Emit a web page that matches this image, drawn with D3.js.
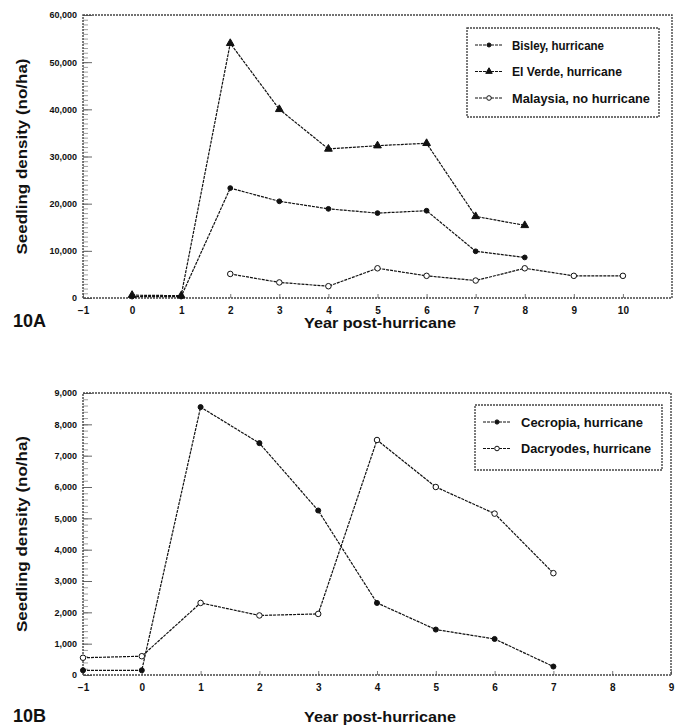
<!DOCTYPE html>
<html>
<head>
<meta charset="utf-8">
<script src="https://d3js.org/d3.v7.min.js"></script>
<style>
  body { margin: 0; background: #fff; }
  svg { font-family: "Liberation Sans Narrow", "Liberation Sans", Arial, sans-serif; font-weight: bold; }
</style>
</head>
<body>
<svg id="fig" width="676" height="727"></svg>
<script>
// Panel 10A data
var yearsA = [0, 1, 2, 3, 4, 5, 6, 7, 8];
var bisley = [300, 300, 23300, 20500, 18900, 18000, 18500, 9900, 8600];
var elVerde = [600, 500, 54000, 40000, 31600, 32300, 32800, 17300, 15400];
var yearsMal = [2, 3, 4, 5, 6, 7, 8, 9, 10];
var malaysia = [5100, 3300, 2500, 6300, 4700, 3700, 6300, 4700, 4700];
var ticksA = [-1, 0, 1, 2, 3, 4, 5, 6, 7, 8, 9, 10];
// Panel 10B data
var yearsB = [-1, 0, 1, 2, 3, 4, 5, 6, 7];
var cecropia = [150, 150, 8550, 7400, 5250, 2300, 1450, 1150, 270];
var dacryodes = [550, 600, 2300, 1900, 1950, 7500, 6000, 5150, 3250];
var ticksB = [-1, 0, 1, 2, 3, 4, 5, 6, 7, 8, 9];

var svg = d3.select("#fig");
var ink = "#111";
var fam = "'Liberation Sans Narrow', 'Liberation Sans', Arial, sans-serif";

function panel(cfg) {
   var x = d3.scaleLinear().domain(cfg.xDomain).range([cfg.left, cfg.right]);
   var y = d3.scaleLinear().domain(cfg.yDomain).range([cfg.bottom, cfg.top]);
   var g = svg.append("g");

   // minor y ticks inside the plot
   g.append("g")
      .attr("transform", "translate(" + cfg.left + ",0)")
      .call(d3.axisLeft(y).tickValues(d3.range(0, cfg.yDomain[1], cfg.yMinor)).tickSize(-5).tickFormat(""))
      .call(a => a.select(".domain").remove())
      .selectAll("line").attr("stroke", "#888").attr("stroke-width", 0.8);

   // major y ticks + labels
   g.append("g")
      .attr("transform", "translate(" + cfg.left + ",0)")
      .call(d3.axisLeft(y).ticks(cfg.yTicks).tickSize(-9).tickPadding(6).tickFormat(d3.format(",")))
      .call(a => a.select(".domain").remove())
      .call(a => a.selectAll("line").attr("stroke", "#666"))
      .selectAll("text").attr("font-size", 9).attr("font-weight", "bold").attr("fill", ink)
      .attr("font-family", fam);

   // x ticks + labels
   g.append("g")
      .attr("transform", "translate(0," + cfg.bottom + ")")
      .call(d3.axisBottom(x).tickValues(cfg.xTicks).tickSize(-4).tickPadding(9).tickFormat(d3.format("d")))
      .call(a => a.select(".domain").remove())
      .call(a => a.selectAll("line").attr("stroke", "#777"))
      .selectAll("text").attr("font-size", 10).attr("font-weight", "bold").attr("fill", ink)
      .attr("font-family", fam);

   // plot frame
   g.append("rect")
      .attr("x", cfg.left).attr("y", cfg.top)
      .attr("width", cfg.right - cfg.left).attr("height", cfg.bottom - cfg.top)
      .attr("fill", "none").attr("stroke", "#444").attr("stroke-width", 1.4)
      .attr("stroke-dasharray", "2,1");

   var line = d3.line().x(d => x(d[0])).y(d => y(d[1]));
   cfg.series.forEach(function (s) {
      var pts = s.xs.map((v, i) => [v, s.ys[i]]);
      g.append("path").datum(pts)
         .attr("d", line)
         .attr("fill", "none").attr("stroke", ink).attr("stroke-width", 1.2)
         .attr("stroke-dasharray", "3,1");
      g.selectAll(null).data(pts).enter().append("path")
         .attr("transform", d => "translate(" + x(d[0]) + "," + y(d[1]) + ")")
         .attr("d", d3.symbol().type(s.symbol).size(s.size))
         .attr("fill", s.open ? "#fff" : ink)
         .attr("stroke", ink).attr("stroke-width", 1);
   });

   // legend
   var lg = cfg.legend;
   g.append("rect")
      .attr("x", lg.x).attr("y", lg.y).attr("width", lg.w).attr("height", lg.h)
      .attr("fill", "#fff").attr("stroke", "#444").attr("stroke-width", 1.4)
      .attr("stroke-dasharray", "2,1");
   cfg.series.forEach(function (s, i) {
      var ry = lg.y + lg.first + i * lg.step;
      g.append("line")
         .attr("x1", lg.x + 8).attr("x2", lg.x + 36).attr("y1", ry).attr("y2", ry)
         .attr("stroke", ink).attr("stroke-width", 1).attr("stroke-dasharray", "3,1");
      g.append("path")
         .attr("transform", "translate(" + (lg.x + 22) + "," + ry + ")")
         .attr("d", d3.symbol().type(s.symbol).size(s.size * 0.7))
         .attr("fill", s.open ? "#fff" : ink).attr("stroke", ink);
      g.append("text")
         .attr("x", lg.x + lg.textX).attr("y", ry + 4.5)
         .attr("font-size", 12.5).attr("fill", ink)
         .attr("textLength", s.tl).attr("lengthAdjust", "spacingAndGlyphs")
         .text(s.name);
   });

   // titles
   g.append("text")
      .attr("transform", "translate(" + cfg.yTitleX + "," + ((cfg.top + cfg.bottom) / 2) + ") rotate(-90)")
      .attr("text-anchor", "middle").attr("font-size", 14).attr("fill", ink)
      .attr("textLength", 196).attr("lengthAdjust", "spacingAndGlyphs")
      .text("Seedling density (no/ha)");
   g.append("text")
      .attr("x", 380).attr("y", cfg.xTitleY)
      .attr("text-anchor", "middle").attr("font-size", 14.5).attr("fill", ink)
      .attr("textLength", 152).attr("lengthAdjust", "spacingAndGlyphs")
      .text("Year post-hurricane");
   g.append("text")
      .attr("x", 13).attr("y", cfg.labelY)
      .attr("font-size", 18).attr("fill", ink)
      .attr("font-family", "'Liberation Sans', Arial, sans-serif")
      .text(cfg.label);
}

panel({
   left: 83, right: 672, top: 15, bottom: 298,
   xDomain: [-1, 11], yDomain: [0, 60000], yTicks: 6, yMinor: 1000,
   xTicks: ticksA, yTitleX: 27, xTitleY: 328, labelY: 327, label: "10A",
   series: [
      { name: "Bisley, hurricane", xs: yearsA, ys: bisley, symbol: d3.symbolCircle, size: 18, open: false, tl: 92 },
      { name: "El Verde, hurricane", xs: yearsA, ys: elVerde, symbol: d3.symbolTriangle, size: 26, open: false, tl: 110 },
      { name: "Malaysia, no hurricane", xs: yearsMal, ys: malaysia, symbol: d3.symbolCircle, size: 24, open: true, tl: 138 }
   ],
   legend: { x: 467, y: 28, w: 192, h: 89, first: 17, step: 26.5, textX: 45 }
});

panel({
   left: 83, right: 671, top: 393, bottom: 675,
   xDomain: [-1, 9], yDomain: [0, 9000], yTicks: 9, yMinor: 200,
   xTicks: ticksB, yTitleX: 27, xTitleY: 722, labelY: 722, label: "10B",
   series: [
      { name: "Cecropia, hurricane", xs: yearsB, ys: cecropia, symbol: d3.symbolCircle, size: 20, open: false, tl: 122 },
      { name: "Dacryodes, hurricane", xs: yearsB, ys: dacryodes, symbol: d3.symbolCircle, size: 24, open: true, tl: 130 }
   ],
   legend: { x: 475, y: 405, w: 187, h: 65, first: 17, step: 26.5, textX: 46 }
});
</script>
</body>
</html>
